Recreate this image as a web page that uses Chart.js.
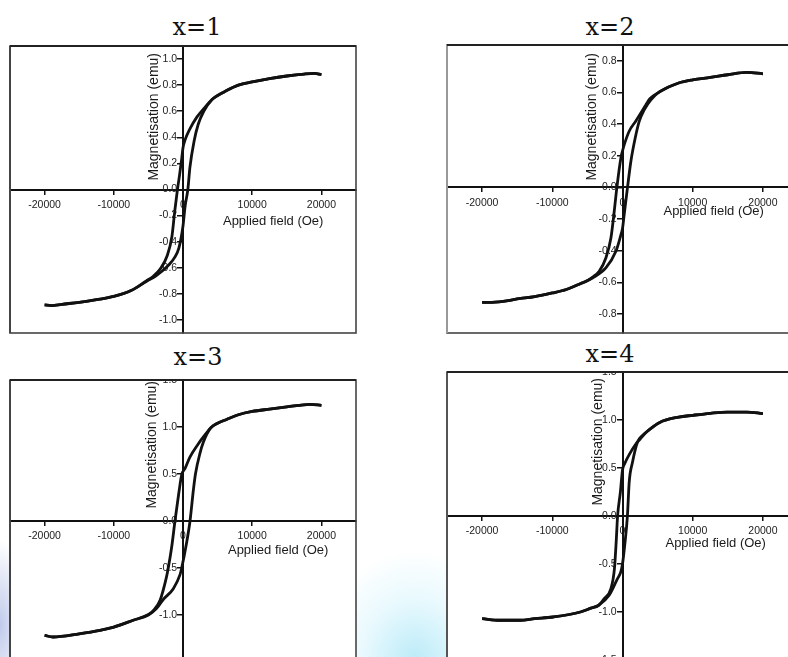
<!DOCTYPE html>
<html><head><meta charset="utf-8">
<script src="https://cdn.jsdelivr.net/npm/chart.js@4/dist/chart.umd.min.js"></script>
<style>
html,body{margin:0;padding:0;width:788px;height:657px;overflow:hidden;}
body{position:relative;background:
 radial-gradient(ellipse 95px 110px at 415px 660px, rgba(165,228,246,0.75), rgba(205,242,252,0.45) 55%, rgba(255,255,255,0) 100%),
 radial-gradient(ellipse 28px 85px at 0px 625px, rgba(170,184,228,0.75), rgba(255,255,255,0) 100%),
 #fff;}
.panel{position:absolute;overflow:hidden;background:#fff;}
.panel canvas{position:absolute;}
.ptitle{position:absolute;font-family:'DejaVu Serif',serif;font-size:24px;line-height:24px;white-space:nowrap;transform:translateX(-50%);color:#111;}
</style></head><body>
<script>
// ---------- data ----------
const panelTitles = ['x=1', 'x=2', 'x=3', 'x=4'];
const xAxisTitle = 'Applied field (Oe)';
const yAxisTitle = 'Magnetisation (emu)';

const xTickValues = [-20000, -10000, 0, 10000, 20000];
const yTickValues1 = [-1.0, -0.8, -0.6, -0.4, -0.2, 0.0, 0.2, 0.4, 0.6, 0.8, 1.0];
const yTickValues2 = [-0.8, -0.6, -0.4, -0.2, 0.0, 0.2, 0.4, 0.6, 0.8];
const yTickValues3 = [-1.5, -1.0, -0.5, 0.0, 0.5, 1.0, 1.5];
const yTickValues4 = [-1.5, -1.0, -0.5, 0.0, 0.5, 1.0, 1.5];

// x=1
const fieldDown1 = [20000, 19000, 17500, 15000, 12500, 10000, 8000, 6000, 4200, 3000, 2000, 1000, 300, 0, -200, -500, -800, -1200, -1600, -2300, -3300, -4300, -5300, -7500, -10000, -12500, -15000, -17500, -19000, -20000];
const magDown1   = [0.88, 0.89, 0.885, 0.87, 0.85, 0.825, 0.80, 0.75, 0.69, 0.62, 0.555, 0.465, 0.38, 0.32, 0.23, 0.11, 0.0, -0.17, -0.36, -0.51, -0.61, -0.665, -0.70, -0.775, -0.82, -0.845, -0.865, -0.88, -0.89, -0.885];
const fieldUp1   = [-20000, -19000, -17500, -15000, -12500, -10000, -7500, -5300, -4000, -3000, -2000, -1200, -600, 0, 300, 700, 1000, 1600, 2200, 3000, 4200, 5000, 6000, 8000, 10000, 12500, 15000, 17500, 19000, 20000];
const magUp1     = [-0.885, -0.89, -0.88, -0.865, -0.845, -0.82, -0.775, -0.705, -0.665, -0.625, -0.575, -0.52, -0.45, -0.28, -0.13, 0.0, 0.17, 0.37, 0.50, 0.60, 0.69, 0.72, 0.75, 0.80, 0.825, 0.85, 0.87, 0.885, 0.89, 0.88];

// x=2
const fieldDown2 = [20000, 17700, 15000, 12500, 10000, 8000, 5300, 3900, 3300, 1900, 950, 250, 0, -230, -800, -1180, -1650, -2370, -3320, -4200, -5200, -6100, -8000, -10000, -12500, -15000, -17000, -19000, -20000];
const magDown2   = [0.718, 0.727, 0.712, 0.695, 0.68, 0.66, 0.605, 0.56, 0.52, 0.42, 0.355, 0.27, 0.23, 0.186, 0.0, -0.152, -0.32, -0.446, -0.53, -0.565, -0.594, -0.61, -0.645, -0.667, -0.69, -0.705, -0.72, -0.727, -0.727];
const fieldUp2   = [-20000, -19000, -17000, -15000, -12500, -10000, -8000, -6100, -4270, -2370, -940, -230, 0, 240, 713, 1190, 1810, 2380, 3090, 4040, 5300, 8000, 10000, 12500, 15000, 17700, 20000];
const magUp2     = [-0.727, -0.727, -0.72, -0.705, -0.69, -0.667, -0.645, -0.61, -0.572, -0.509, -0.404, -0.30, -0.26, -0.172, 0.0, 0.164, 0.312, 0.417, 0.49, 0.554, 0.605, 0.66, 0.68, 0.695, 0.712, 0.727, 0.718];

// x=3
const fieldDown3 = [20000, 18400, 15000, 12500, 10000, 8000, 6300, 5000, 4000, 3000, 2200, 1000, 300, -190, -600, -1160, -1640, -2130, -2400, -3300, -4300, -5000, -7200, -10000, -12000, -15000, -18800, -20000];
const magDown3   = [1.231, 1.241, 1.213, 1.19, 1.165, 1.13, 1.08, 1.04, 0.99, 0.90, 0.82, 0.68, 0.56, 0.49, 0.30, 0.0, -0.28, -0.5, -0.6, -0.84, -0.955, -0.995, -1.056, -1.128, -1.163, -1.20, -1.234, -1.216];
const fieldUp3   = [-20000, -18800, -15000, -12000, -10000, -7200, -5000, -3800, -2850, -1400, -430, -190, 500, 1014, 1500, 1800, 2450, 2950, 4000, 5000, 6300, 8000, 10000, 12500, 15000, 18400, 20000];
const magUp3     = [-1.216, -1.234, -1.20, -1.163, -1.128, -1.056, -1.0, -0.93, -0.835, -0.72, -0.57, -0.50, -0.24, 0.0, 0.33, 0.5, 0.72, 0.84, 0.99, 1.04, 1.08, 1.13, 1.165, 1.19, 1.213, 1.241, 1.231];

// x=4
const fieldDown4 = [20000, 17700, 14900, 12500, 10000, 8000, 5300, 3500, 2500, 1900, 955, 340, 0, -300, -700, -900, -1150, -1650, -2600, -3400, -4500, -6000, -9900, -12500, -14600, -17500, -20000];
const magDown4   = [1.067, 1.083, 1.083, 1.07, 1.049, 1.03, 0.975, 0.88, 0.80, 0.75, 0.64, 0.55, 0.48, 0.25, 0.0, -0.27, -0.55, -0.756, -0.86, -0.93, -0.96, -1.0, -1.052, -1.07, -1.086, -1.086, -1.069];
const fieldUp4   = [-20000, -17500, -14600, -12500, -9900, -6000, -4500, -3400, -1900, -710, -230, 0, 350, 700, 955, 1430, 2140, 2850, 3500, 5300, 8000, 10000, 12500, 14900, 17700, 20000];
const magUp4     = [-1.069, -1.086, -1.086, -1.07, -1.052, -1.0, -0.96, -0.93, -0.826, -0.652, -0.58, -0.50, -0.28, 0.0, 0.354, 0.5625, 0.77, 0.84, 0.88, 0.975, 1.03, 1.049, 1.07, 1.083, 1.083, 1.067];

const fieldRange = [-25000, 25000];
const magRanges = [[-1.1, 1.1], [-0.92, 0.9], [-1.5, 1.5], [-1.5, 1.5]];

// ---------- layout (page placement of each plot frame) ----------
const PAD = 20;
const panels = [
  {left:10,  top:46,  width:346, height:287, titleX:197, titleTop:15,  yTitleDx:-29, yTitleGap:7, xTitleDx:2, xTitleDy:32, leftColor:'#444',
   down:[fieldDown1, magDown1], up:[fieldUp1, magUp1], yTicks:yTickValues1, yRange:magRanges[0]},
  {left:447, top:45,  width:351, height:288, titleX:610, titleTop:15,  yTitleDx:-30, yTitleGap:8, xTitleDx:1, xTitleDy:24, leftColor:'#999',
   down:[fieldDown2, magDown2], up:[fieldUp2, magUp2], yTicks:yTickValues2, yRange:magRanges[1]},
  {left:10,  top:380, width:346, height:282, titleX:198, titleTop:345, yTitleDx:-31, yTitleGap:1, xTitleDx:7, xTitleDy:29, leftColor:'#444',
   down:[fieldDown3, magDown3], up:[fieldUp3, magUp3], yTicks:yTickValues3, yRange:magRanges[2]},
  {left:447, top:372, width:351, height:288, titleX:610, titleTop:342, yTitleDx:-24, yTitleGap:6, xTitleDx:3, xTitleDy:27, leftColor:'#555',
   down:[fieldDown4, magDown4], up:[fieldUp4, magUp4], yTicks:yTickValues4, yRange:magRanges[3]}
];

const framePlugin = {
  id: 'frameTitles',
  afterDraw(chart, args, o) {
    const {ctx, chartArea: a, scales} = chart;
    ctx.save();
    ctx.strokeStyle = '#444';
    ctx.lineWidth = 1.6;
    ctx.strokeRect(a.left, a.top, a.right - a.left, a.bottom - a.top);
    ctx.strokeStyle = o.leftColor;
    ctx.lineWidth = 2;
    ctx.beginPath(); ctx.moveTo(a.left, a.top); ctx.lineTo(a.left, a.bottom); ctx.stroke();
    ctx.strokeStyle = '#222';
    ctx.beginPath(); ctx.moveTo(a.left, a.top); ctx.lineTo(a.right, a.top); ctx.stroke();
    const x0 = scales.x.getPixelForValue(0);
    const y0 = scales.y.getPixelForValue(0);
    ctx.fillStyle = '#1a1a1a';
    // x-axis title
    ctx.font = '13px "Liberation Sans", Arial, sans-serif';
    ctx.textAlign = 'right';
    ctx.textBaseline = 'middle';
    ctx.fillText(xAxisTitle, scales.x.getPixelForValue(20000) + o.xTitleDx, y0 + o.xTitleDy);
    // y-axis title
    ctx.font = '14px "Liberation Sans", Arial, sans-serif';
    ctx.translate(x0 + o.yTitleDx, a.top + o.yTitleGap);
    ctx.rotate(-Math.PI / 2);
    ctx.textAlign = 'right';
    ctx.fillText(yAxisTitle, 0, 0);
    ctx.restore();
  }
};

const tickFont = {family: '"Liberation Sans", Arial, sans-serif', size: 10.5};

panels.forEach((p, i) => {
  const t = document.createElement('div');
  t.className = 'ptitle';
  t.style.left = p.titleX + 'px';
  t.style.top = p.titleTop + 'px';
  t.textContent = panelTitles[i];
  document.body.appendChild(t);

  const wrap = document.createElement('div');
  wrap.className = 'panel';
  wrap.style.left = (p.left - 1) + 'px';
  wrap.style.top = (p.top - 1) + 'px';
  wrap.style.width = (p.width + 2) + 'px';
  wrap.style.height = (p.height + 2) + 'px';
  const cv = document.createElement('canvas');
  cv.width = p.width + 2 * PAD;
  cv.height = p.height + 2 * PAD;
  cv.style.left = (1 - PAD) + 'px';
  cv.style.top = (1 - PAD) + 'px';
  wrap.appendChild(cv);
  document.body.appendChild(wrap);

  const toPts = (hs, ms) => hs.map((h, k) => ({x: h, y: ms[k]}));
  const lineStyle = {showLine: true, borderColor: '#111', borderWidth: 2.8, pointRadius: 0, cubicInterpolationMode: 'monotone', fill: false};

  new Chart(cv, {
    type: 'scatter',
    data: {datasets: [
      Object.assign({label: 'down', data: toPts(p.down[0], p.down[1])}, lineStyle),
      Object.assign({label: 'up', data: toPts(p.up[0], p.up[1])}, lineStyle)
    ]},
    options: {
      responsive: false, animation: false, devicePixelRatio: 1,
      layout: {padding: PAD},
      plugins: {legend: {display: false}, tooltip: {enabled: false}, title: {display: false},
        frameTitles: {xTitleDx: p.xTitleDx, xTitleDy: p.xTitleDy, yTitleDx: p.yTitleDx, yTitleGap: p.yTitleGap, leftColor: p.leftColor}},
      scales: {
        x: {
          type: 'linear', min: fieldRange[0], max: fieldRange[1],
          position: {y: 0},
          afterBuildTicks: s => { s.ticks = xTickValues.map(v => ({value: v})); },
          grid: {display: true, drawOnChartArea: false, drawTicks: true, tickLength: 4, color: '#111', lineWidth: 1.5},
          border: {display: true, color: '#111', width: 2},
          ticks: {font: tickFont, color: '#222', padding: 5, maxRotation: 0, autoSkip: false, callback: v => String(v)},
          title: {display: false}
        },
        y: {
          type: 'linear', min: p.yRange[0], max: p.yRange[1],
          position: {x: 0},
          afterBuildTicks: s => { s.ticks = p.yTicks.map(v => ({value: v})); },
          grid: {display: true, drawOnChartArea: false, drawTicks: true, tickLength: 5, color: '#111', lineWidth: 1.5},
          border: {display: true, color: '#111', width: 2},
          ticks: {font: tickFont, color: '#222', padding: 3, autoSkip: false, callback: v => Number(v).toFixed(1) + '  '},
          title: {display: false}
        }
      }
    },
    plugins: [framePlugin]
  });
});
</script>
</body></html>
